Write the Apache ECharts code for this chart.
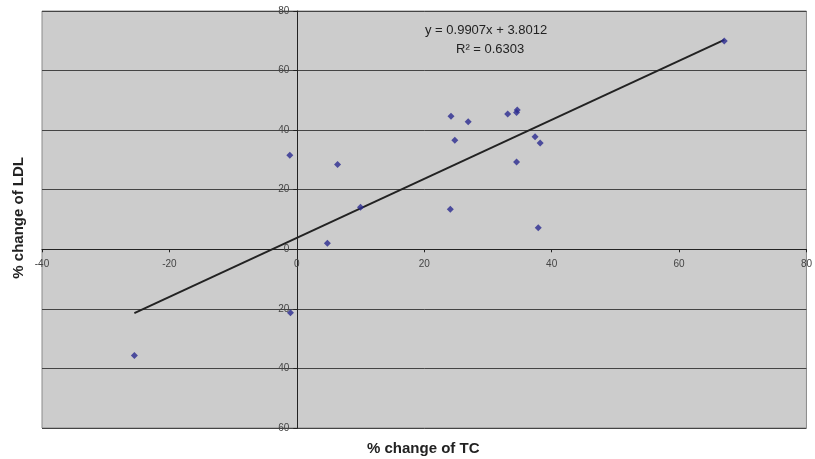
<!DOCTYPE html>
<html><head><meta charset="utf-8">
<script src="https://cdn.jsdelivr.net/npm/echarts@6/dist/echarts.min.js"></script>
<style>html,body{margin:0;padding:0;background:#fff}#c{width:815px;height:459px}</style>
</head><body><div id="c"></div>
<script>
const tcChange  = [-1.1, 6.4, 10.0, 4.8, 24.2, 24.8, 26.9, 24.1, 33.1, 34.6, 34.5, 34.5, 37.4, 38.2, 37.9, -1.0, -25.5, 67.1];
const ldlChange = [31.6, 28.5, 14.1, 2.0, 44.7, 36.6, 42.8, 13.4, 45.4, 46.8, 45.9, 29.3, 37.8, 35.7, 7.2, -21.3, -35.7, 69.9];
const slope = 0.9907, intercept = 3.8012, r2 = 0.6303;
const xTicks = [-40, -20, 0, 20, 40, 60, 80];
const yTicks = [-60, -40, -20, 0, 20, 40, 60, 80];

const points = tcChange.map((x, i) => [x, ldlChange[i]]);
const xmin = Math.min(...tcChange), xmax = Math.max(...tcChange);
const trend = [[xmin, slope * xmin + intercept], [xmax, slope * xmax + intercept]];

const G = {left: 42, top: 11, width: 766, height: 417};
const xMin = xTicks[0], xMax = xTicks[xTicks.length - 1];
const yMin = yTicks[0], yMax = yTicks[yTicks.length - 1];
const yAxisOffset = -((0 - xMin) / (xMax - xMin)) * G.width;
const xAxisOffset = -((0 - yMin) / (yMax - yMin)) * G.height;

const chart = echarts.init(document.getElementById('c'), null, {renderer: 'canvas'});
const font = 'Arial, "Liberation Sans", sans-serif';
chart.setOption({
  animation: false,
  grid: Object.assign({show: true, backgroundColor: '#cccccc', borderColor: '#8a8a8a', borderWidth: 1}, G),
  xAxis: {
    type: 'value', min: xMin, max: xMax, interval: 20, position: 'bottom', offset: xAxisOffset,
    axisLine: {onZero: false, lineStyle: {color: '#222', width: 1}},
    axisTick: {show: true, inside: false, length: 3, lineStyle: {color: '#222'}},
    axisLabel: {color: '#444', fontSize: 10, fontFamily: font, margin: 10},
    splitLine: {show: false}
  },
  yAxis: {
    type: 'value', min: yMin, max: yMax, interval: 20, position: 'left', offset: yAxisOffset,
    axisLine: {onZero: false, lineStyle: {color: '#222', width: 1}},
    axisTick: {show: true, inside: false, length: 4, lineStyle: {color: '#222'}},
    axisLabel: {color: '#444', fontSize: 10, fontFamily: font, margin: 8},
    splitLine: {show: true, lineStyle: {color: '#444', width: 1}}
  },
  series: [
    {type: 'line', data: trend, symbol: 'none', lineStyle: {color: '#222', width: 2}, z: 2},
    {type: 'scatter', data: points, symbol: 'diamond', symbolSize: 7, itemStyle: {color: '#2a2a90'}, z: 3}
  ],
  graphic: [
    {type: 'text', left: 425, top: 24, style: {text: 'y = ' + slope + 'x + ' + intercept, font: '13px ' + font, fill: '#222'}},
    {type: 'text', left: 456, top: 43, style: {text: 'R² = ' + r2, font: '13px ' + font, fill: '#222'}},
    {type: 'text', left: 367, top: 441, style: {text: '% change of TC', font: 'bold 15px ' + font, fill: '#222'}},
    {type: 'text', rotation: Math.PI / 2, left: 11, top: 157, style: {text: '% change of LDL', font: 'bold 15px ' + font, fill: '#222'}}
  ]
});
</script></body></html>
